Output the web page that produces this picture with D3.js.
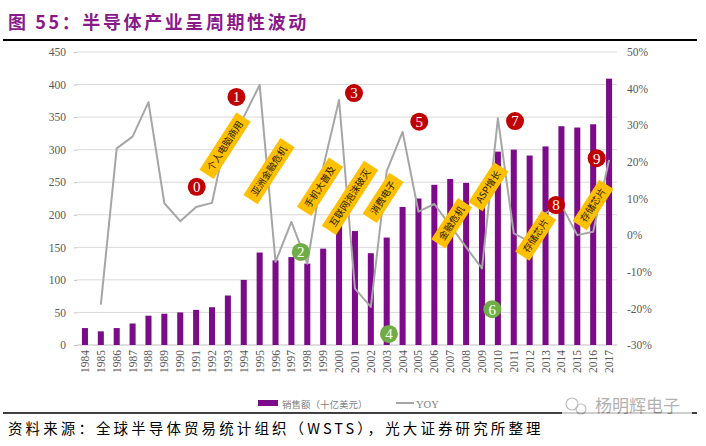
<!DOCTYPE html>
<html>
<head>
<meta charset="utf-8">
<script src="https://cdn.jsdelivr.net/npm/d3@7"></script>
<style>
html,body{margin:0;padding:0;background:#fff;}
svg{display:block;}
</style>
</head>
<body>
<svg id="chart" width="706" height="446"></svg>
<script>
// ---------- data ----------
const years = ["1984","1985","1986","1987","1988","1989","1990","1991","1992","1993","1994","1995","1996","1997","1998","1999","2000","2001","2002","2003","2004","2005","2006","2007","2008","2009","2010","2011","2012","2013","2014","2015","2016","2017"];
const sales = [26,21,26,33,45,48,50,54,58,76,100,142,130,135,125,148,190,175,141,165,212,225,246,255,249,226,297,300,291,305,336,334,339,409];
const yoy = [null,-19,23.7,26.9,36.3,8.7,3.8,7.7,8.8,29,32.3,41,-7.3,3.6,-7.8,18.5,36.9,-14.6,-19.6,17.5,28.2,6.4,8.5,2.6,-3.3,-9.1,31.9,0.5,-1.8,6,8.2,0,0.9,20.5];
const leftTicks = [0,50,100,150,200,250,300,350,400,450];
const rightTicks = [-30,-20,-10,0,10,20,30,40,50];

// numbered cycle markers (position in year / left-axis units)
const markerLabels = ["0","1","2","3","4","5","6","7","8","9"];
const markerYear = [1991.04,1993.54,1997.59,2000.94,2003.14,2005.05,2009.65,2011.08,2013.66,2016.22];
const markerValue = [243,381,143,387,17,343,55,344,215,287];
const markerKind = ["up","up","down","up","down","up","down","up","up","up"];

// event tags
const tagTexts = ["个人电脑商用","亚洲金融危机","手机大普及","互联网泡沫破灭","消费电子","金融危机","ASP增长","存储芯片","存储芯片"];
const tagYear = [1992.82,1995.59,1998.80,2000.69,2002.77,2007.09,2009.40,2012.38,2015.99];
const tagValue = [306,267,243,226,226,187,243,168,215];

const titleText = "图 55：半导体产业呈周期性波动";
const sourceText = "资料来源：全球半导体贸易统计组织（WSTS），光大证券研究所整理";
const legendSales = "销售额（十亿美元）";
const legendYoy = "YOY";
const watermark = "杨明辉电子";

// ---------- layout ----------
const svg = d3.select("#chart");
const L = 77, R = 617, T = 52, B = 345;

const x = d3.scaleBand().domain(years).range([L, R]).paddingInner(0.62).paddingOuter(0.31);
const xYear = d3.scaleLinear().domain([1983.5, 2017.5]).range([L, R]);
const yL = d3.scaleLinear().domain([0, 450]).range([B, T]);
const yR = d3.scaleLinear().domain([-30, 50]).range([B, T]);

const serif = "'Liberation Serif','Times New Roman',serif";
const cjk = "'Noto Sans CJK SC','Noto Sans',sans-serif";

// title
svg.append("text").attr("x", 8).attr("y", 29)
  .attr("font-family", cjk).attr("font-weight", "bold").attr("font-size", 18)
  .attr("letter-spacing", 2.6).attr("fill", "#8a1a8a").text(titleText);
svg.append("line").attr("x1", 3).attr("x2", 697).attr("y1", 40).attr("y2", 40)
  .attr("stroke", "#000").attr("stroke-width", 2);

// gridlines
svg.append("g").selectAll("line").data(leftTicks).join("line")
  .attr("x1", L).attr("x2", R)
  .attr("y1", d => yL(d)).attr("y2", d => yL(d))
  .attr("stroke", d => d === 0 ? "#bfbfbf" : "#d9d9d9").attr("stroke-width", 1);

// left axis
const gl = svg.append("g").attr("transform", `translate(${L},0)`)
  .call(d3.axisLeft(yL).tickValues(leftTicks).tickSize(3).tickPadding(8));
gl.select(".domain").remove();
gl.selectAll(".tick line").attr("stroke", "#bfbfbf");
gl.selectAll(".tick text").attr("font-family", serif).attr("font-size", 11.5).attr("fill", "#595959");

// right axis
const gr = svg.append("g").attr("transform", `translate(${R},0)`)
  .call(d3.axisRight(yR).tickValues(rightTicks).tickSize(0).tickPadding(10).tickFormat(d => d + "%"));
gr.select(".domain").remove();
gr.selectAll(".tick text").attr("font-family", serif).attr("font-size", 11.5).attr("fill", "#595959");

// bars
svg.append("g").selectAll("rect").data(years).join("rect")
  .attr("x", d => x(d)).attr("width", x.bandwidth())
  .attr("y", (d, i) => yL(sales[i])).attr("height", (d, i) => B - yL(sales[i]))
  .attr("fill", "#7b0b88");

// x labels
svg.append("g").selectAll("text").data(years).join("text")
  .attr("transform", d => `translate(${x(d) + x.bandwidth() / 2 + 4},350) rotate(-90)`)
  .attr("text-anchor", "end")
  .attr("font-family", serif).attr("font-size", 11.5).attr("fill", "#595959")
  .text(d => d);

// yoy line
const pts = years.map((d, i) => ({ y: d, v: yoy[i] })).filter(p => p.v !== null);
svg.append("path").datum(pts)
  .attr("d", d3.line().x(p => x(p.y) + x.bandwidth() / 2).y(p => yR(p.v)))
  .attr("fill", "none").attr("stroke", "#a6a6a6").attr("stroke-width", 2).attr("stroke-linejoin", "round");

// event tags
const tags = svg.append("g").selectAll("g").data(tagTexts).join("g")
  .attr("transform", (d, i) => `translate(${xYear(tagYear[i])},${yL(tagValue[i])}) rotate(-57)`);
tags.each(function (d) {
  const g = d3.select(this);
  const t = g.append("text").attr("text-anchor", "middle").attr("dy", "0.35em")
    .attr("font-family", cjk).attr("font-size", 9.5).attr("fill", "#1f1800").text(d);
  const w = t.node().getComputedTextLength() + 11;
  g.insert("rect", "text").attr("x", -w / 2).attr("y", -8.5).attr("width", w).attr("height", 17)
    .attr("fill", "#ffc000");
});

// markers
const mk = svg.append("g").selectAll("g").data(markerLabels).join("g")
  .attr("transform", (d, i) => `translate(${xYear(markerYear[i])},${yL(markerValue[i])})`);
mk.append("circle").attr("r", 9)
  .attr("fill", (d, i) => markerKind[i] === "up" ? "#c00000" : "#70ad47");
mk.append("text").attr("text-anchor", "middle").attr("dy", "0.36em")
  .attr("font-family", serif).attr("font-size", 15).attr("fill", "#fff").text(d => d);

// legend
svg.append("rect").attr("x", 258).attr("y", 400).attr("width", 20).attr("height", 6).attr("fill", "#7b0b88");
svg.append("text").attr("x", 282).attr("y", 408).attr("font-family", cjk).attr("font-size", 9.5)
  .attr("fill", "#7f7f7f").text(legendSales);
svg.append("line").attr("x1", 396).attr("x2", 414).attr("y1", 403).attr("y2", 403)
  .attr("stroke", "#a6a6a6").attr("stroke-width", 2);
svg.append("text").attr("x", 416).attr("y", 408).attr("font-family", serif).attr("font-size", 10.5)
  .attr("fill", "#7f7f7f").text(legendYoy);

// bottom rule + source
svg.append("line").attr("x1", 3).attr("x2", 697).attr("y1", 413).attr("y2", 413)
  .attr("stroke", "#000").attr("stroke-width", 1.5);
svg.append("text").attr("x", 8).attr("y", 434).attr("font-family", cjk).attr("font-size", 14.5)
  .attr("letter-spacing", 3.1).attr("fill", "#000").text(sourceText);

// watermark
const wm = svg.append("g").attr("opacity", 0.75);
wm.append("rect").attr("x", 562).attr("y", 395).attr("width", 130).attr("height", 22).attr("fill", "#fff");
wm.append("circle").attr("cx", 572).attr("cy", 404).attr("r", 6).attr("fill", "none").attr("stroke", "#aaa").attr("stroke-width", 1.2);
wm.append("circle").attr("cx", 581).attr("cy", 409).attr("r", 5).attr("fill", "none").attr("stroke", "#aaa").attr("stroke-width", 1.2);
wm.append("text").attr("x", 595).attr("y", 412).attr("font-family", cjk).attr("font-size", 17)
  .attr("fill", "#999").text(watermark);
</script>
</body>
</html>
